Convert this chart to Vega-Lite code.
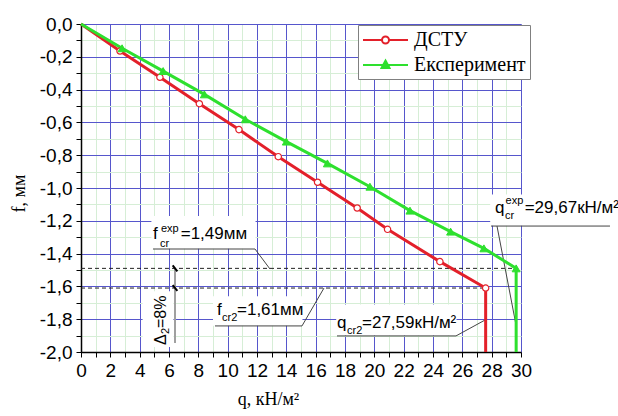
{
  "$schema": "https://vega.github.io/schema/vega-lite/v6.json",
  "width": 440,
  "height": 328,
  "autosize": {"type": "none"},
  "padding": {"left": 81, "top": 24, "right": 97, "bottom": 64},
  "background": "white",
  "config": {"view": {"stroke": null}, "font": "Liberation Sans"},
  "datasets": {
    "series": [
      {"s": "ДСТУ", "q": 0, "f": 0},
      {"s": "ДСТУ", "q": 2.66, "f": -0.165},
      {"s": "ДСТУ", "q": 5.38, "f": -0.325},
      {"s": "ДСТУ", "q": 8.07, "f": -0.486},
      {"s": "ДСТУ", "q": 10.77, "f": -0.644},
      {"s": "ДСТУ", "q": 13.45, "f": -0.809},
      {"s": "ДСТУ", "q": 16.13, "f": -0.965},
      {"s": "ДСТУ", "q": 18.83, "f": -1.122},
      {"s": "ДСТУ", "q": 20.9, "f": -1.252},
      {"s": "ДСТУ", "q": 24.47, "f": -1.449},
      {"s": "ДСТУ", "q": 27.59, "f": -1.61},
      {"s": "ДСТУ", "q": 27.59, "f": -2.0},
      {"s": "Експеримент", "q": 0, "f": 0},
      {"s": "Експеримент", "q": 2.8, "f": -0.148},
      {"s": "Експеримент", "q": 5.6, "f": -0.287},
      {"s": "Експеримент", "q": 8.41, "f": -0.429},
      {"s": "Експеримент", "q": 11.2, "f": -0.581},
      {"s": "Експеримент", "q": 14.0, "f": -0.717},
      {"s": "Експеримент", "q": 16.8, "f": -0.85},
      {"s": "Експеримент", "q": 19.7, "f": -0.992},
      {"s": "Експеримент", "q": 22.43, "f": -1.138},
      {"s": "Експеримент", "q": 25.2, "f": -1.266},
      {"s": "Експеримент", "q": 27.47, "f": -1.368},
      {"s": "Експеримент", "q": 29.67, "f": -1.49},
      {"s": "Експеримент", "q": 29.67, "f": -2.0}
    ],
    "boxes": [
      {"q": 4.8, "q2": 11.9, "f": -1.17, "f2": -1.37},
      {"q": 9.0, "q2": 15.1, "f": -1.66, "f2": -1.84},
      {"q": 17.4, "q2": 25.6, "f": -1.71, "f2": -1.9},
      {"q": 27.9, "q2": 36.2, "f": -1.04, "f2": -1.23},
      {"q": 4.2, "q2": 6.3, "f": -1.63, "f2": -1.97}
    ],
    "dashed": [
      {"q": 0, "q2": 29.67, "f": -1.49},
      {"q": 0, "q2": 27.59, "f": -1.61}
    ],
    "dim": [
      {"q": 6.41, "q2": 6.41, "f": -1.49, "f2": -1.945}
    ],
    "dimticks": [
      {"q": 6.25, "q2": 6.57, "f": -1.472, "f2": -1.508},
      {"q": 6.25, "q2": 6.57, "f": -1.592, "f2": -1.628}
    ],
    "leaders": [
      {"q": 4.909, "f": -1.372, "q2": 11.864, "f2": -1.372},
      {"q": 11.864, "f": -1.372, "q2": 12.886, "f2": -1.494},
      {"q": 9.136, "f": -1.841, "q2": 15.068, "f2": -1.841},
      {"q": 15.068, "f": -1.841, "q2": 16.568, "f2": -1.61},
      {"q": 17.455, "f": -1.902, "q2": 25.568, "f2": -1.902},
      {"q": 25.568, "f": -1.902, "q2": 27.55, "f2": -1.805},
      {"q": 27.955, "f": -1.232, "q2": 36.068, "f2": -1.232},
      {"q": 28.364, "f": -1.232, "q2": 29.66, "f2": -1.835}
    ],
    "txtBig": [
      {"t": "f", "q": 4.909, "f": -1.311},
      {"t": "=1,49мм", "q": 6.8, "f": -1.311},
      {"t": "f", "q": 9.273, "f": -1.774},
      {"t": "=1,61мм", "q": 10.636, "f": -1.774},
      {"t": "q", "q": 17.455, "f": -1.854},
      {"t": "=27,59кН/м²", "q": 19.159, "f": -1.854},
      {"t": "q", "q": 28.227, "f": -1.152},
      {"t": "=29,67кН/м²", "q": 30.25, "f": -1.152}
    ],
    "txtSmall": [
      {"t": "cr", "q": 5.386, "f": -1.36},
      {"t": "exp", "q": 5.455, "f": -1.268},
      {"t": "cr2", "q": 9.614, "f": -1.811},
      {"t": "cr2", "q": 18.136, "f": -1.89},
      {"t": "cr", "q": 28.909, "f": -1.189},
      {"t": "exp", "q": 28.95, "f": -1.098}
    ],
    "rotBig": [
      {"t": "Δ", "q": 5.795, "f": -1.957},
      {"t": "=8%", "q": 5.795, "f": -1.854}
    ],
    "rotSmall": [
      {"t": "2", "q": 6.0, "f": -1.89}
    ]
  },
  "layer": [
    {
      "data": {"name": "boxes"},
      "mark": {"type": "rect", "fill": "white", "stroke": null},
      "encoding": {
        "x": {
          "field": "q", "type": "quantitative",
          "scale": {"domain": [0, 30], "nice": false, "zero": false},
          "axis": {
            "title": "q, кН/м²",
            "titleFont": "Liberation Serif",
            "titleFontSize": 18,
            "titleFontWeight": "normal",
            "titleColor": "black",
            "titleX": 187,
            "titleY": 52,
            "titleAlign": "center",
            "titleBaseline": "alphabetic",
            "values": [0,1,2,3,4,5,6,7,8,9,10,11,12,13,14,15,16,17,18,19,20,21,22,23,24,25,26,27,28,29,30],
            "tickCount": 100,
            "labelExpr": "datum.value % 2 == 0 ? format(datum.value, 'd') : ''",
            "labelFont": "Liberation Sans",
            "labelFontSize": 19,
            "labelColor": "black",
            "labelFlush": false,
            "labelOverlap": false,
            "labelPadding": 4,
            "tickSize": 5,
            "tickColor": "black",
            "tickWidth": 1,
            "domainColor": "black",
            "domainWidth": 1.5,
            "grid": true,
            "gridWidth": 1,
            "gridColor": {"condition": {"test": "datum.value % 2 == 0", "value": "#5656cc"}, "value": "#d6eed6"}
          }
        },
        "x2": {"field": "q2"},
        "y": {
          "field": "f", "type": "quantitative",
          "scale": {"domain": [-2, 0], "nice": false, "zero": false},
          "axis": {
            "title": "f, мм",
            "titleFont": "Liberation Serif",
            "titleFontSize": 18,
            "titleFontWeight": "normal",
            "titleColor": "black",
            "titleX": -62,
            "titleY": 169,
            "titleAngle": 270,
            "titleAlign": "center",
            "titleBaseline": "middle",
            "values": [0,-0.1,-0.2,-0.3,-0.4,-0.5,-0.6,-0.7,-0.8,-0.9,-1.0,-1.1,-1.2,-1.3,-1.4,-1.5,-1.6,-1.7,-1.8,-1.9,-2.0],
            "tickCount": 100,
            "labelExpr": "round(datum.value*10) % 2 == 0 ? replace(replace(format(datum.value, '.1f'), '.', ','), '−', '-') : ''",
            "labelFont": "Liberation Sans",
            "labelFontSize": 19,
            "labelColor": "black",
            "labelFlush": false,
            "labelOverlap": false,
            "labelPadding": 4,
            "tickSize": 5,
            "tickColor": "black",
            "tickWidth": 1,
            "domainColor": "black",
            "domainWidth": 1.5,
            "grid": true,
            "gridWidth": 1,
            "gridColor": {"condition": {"test": "round(datum.value*10) % 2 == 0", "value": "#5656cc"}, "value": "#d6eed6"}
          }
        },
        "y2": {"field": "f2"}
      }
    },
    {
      "data": {"name": "dashed"},
      "mark": {"type": "rule", "color": "#222222", "strokeWidth": 1, "strokeDash": [4, 3]},
      "encoding": {
        "x": {"field": "q", "type": "quantitative"},
        "x2": {"field": "q2"},
        "y": {"field": "f", "type": "quantitative"}
      }
    },
    {
      "data": {"name": "dim"},
      "mark": {"type": "rule", "color": "#a0a0a0", "strokeWidth": 2},
      "encoding": {
        "x": {"field": "q", "type": "quantitative"},
        "y": {"field": "f", "type": "quantitative"},
        "y2": {"field": "f2"}
      }
    },
    {
      "data": {"name": "dimticks"},
      "mark": {"type": "rule", "color": "black", "strokeWidth": 2},
      "encoding": {
        "x": {"field": "q", "type": "quantitative"},
        "x2": {"field": "q2"},
        "y": {"field": "f", "type": "quantitative"},
        "y2": {"field": "f2"}
      }
    },
    {
      "data": {"name": "leaders"},
      "mark": {"type": "rule", "color": "#444444", "strokeWidth": 1},
      "encoding": {
        "x": {"field": "q", "type": "quantitative"},
        "x2": {"field": "q2"},
        "y": {"field": "f", "type": "quantitative"},
        "y2": {"field": "f2"}
      }
    },
    {
      "data": {"name": "series"},
      "mark": {"type": "line", "strokeWidth": 3},
      "encoding": {
        "x": {"field": "q", "type": "quantitative"},
        "y": {"field": "f", "type": "quantitative"},
        "order": {"field": "f", "sort": "descending"},
        "color": {
          "field": "s", "type": "nominal",
          "scale": {"domain": ["ДСТУ", "Експеримент"], "range": ["#e3202a", "#2ee02e"]},
          "legend": {
            "title": null,
            "orient": "none",
            "legendX": 277,
            "legendY": 1,
            "direction": "vertical",
            "padding": 4,
            "strokeColor": "#808080",
            "fillColor": "white",
            "symbolType": "stroke",
            "symbolSize": 400,
            "symbolStrokeWidth": 2,
            "labelFont": "Liberation Serif",
            "labelFontSize": 20,
            "labelColor": "black",
            "labelOffset": 30,
            "rowPadding": 4,
            "encode": {
              "symbols": {
                "update": {
                  "shape": {"signal": "datum.value === 'ДСТУ' ? 'M-1,0L0.9,0M1.6,0L3.5,0M1.6,0A0.35,0.35,0,1,1,0.9,0A0.35,0.35,0,1,1,1.6,0Z' : 'M-1,0L3.5,0M1.25,-0.45L1.65,0.3L0.85,0.3Z'"},
                  "fill": {"signal": "datum.value === 'ДСТУ' ? '#ffffff' : '#2ee02e'"},
                  "fillOpacity": {"value": 1},
                  "size": {"value": 400}
                }
              }
            }
          }
        }
      }
    },
    {
      "data": {"name": "series"},
      "transform": [{"filter": "datum.s === 'ДСТУ' && datum.q > 0 && datum.f > -2"}],
      "mark": {"type": "point", "shape": "circle", "size": 40, "fill": "#ffffff", "stroke": "#e3202a", "strokeWidth": 1.2, "opacity": 1, "filled": false, "fillOpacity": 1},
      "encoding": {
        "x": {"field": "q", "type": "quantitative"},
        "y": {"field": "f", "type": "quantitative"}
      }
    },
    {
      "data": {"name": "series"},
      "transform": [{"filter": "datum.s === 'Експеримент' && datum.q > 0 && datum.f > -2"}],
      "mark": {"type": "point", "shape": "triangle-up", "size": 64, "fill": "#2ee02e", "stroke": "#2ee02e", "strokeWidth": 1, "opacity": 1, "filled": true},
      "encoding": {
        "x": {"field": "q", "type": "quantitative"},
        "y": {"field": "f", "type": "quantitative"}
      }
    },
    {
      "data": {"name": "txtBig"},
      "mark": {"type": "text", "font": "Liberation Sans", "fontSize": 17, "align": "left", "baseline": "alphabetic", "color": "black"},
      "encoding": {
        "x": {"field": "q", "type": "quantitative"},
        "y": {"field": "f", "type": "quantitative"},
        "text": {"field": "t"}
      }
    },
    {
      "data": {"name": "txtSmall"},
      "mark": {"type": "text", "font": "Liberation Sans", "fontSize": 11, "align": "left", "baseline": "alphabetic", "color": "black"},
      "encoding": {
        "x": {"field": "q", "type": "quantitative"},
        "y": {"field": "f", "type": "quantitative"},
        "text": {"field": "t"}
      }
    },
    {
      "data": {"name": "rotBig"},
      "mark": {"type": "text", "font": "Liberation Sans", "fontSize": 16, "align": "left", "baseline": "alphabetic", "angle": 270, "color": "black"},
      "encoding": {
        "x": {"field": "q", "type": "quantitative"},
        "y": {"field": "f", "type": "quantitative"},
        "text": {"field": "t"}
      }
    },
    {
      "data": {"name": "rotSmall"},
      "mark": {"type": "text", "font": "Liberation Sans", "fontSize": 11, "align": "left", "baseline": "alphabetic", "angle": 270, "color": "black"},
      "encoding": {
        "x": {"field": "q", "type": "quantitative"},
        "y": {"field": "f", "type": "quantitative"},
        "text": {"field": "t"}
      }
    }
  ]
}
